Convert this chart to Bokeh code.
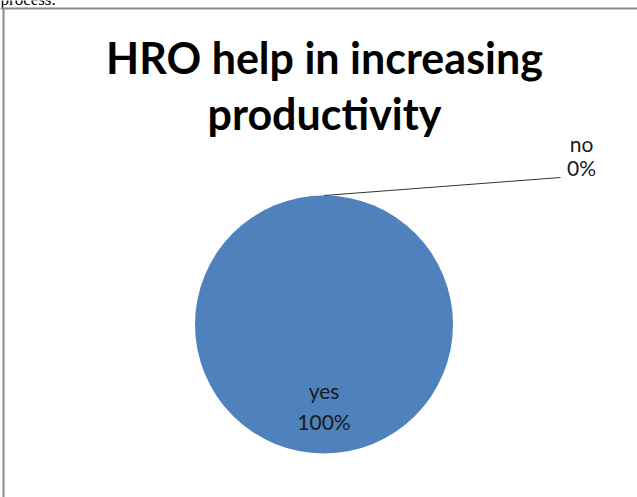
import math
from bokeh.plotting import figure
from bokeh.models import Range1d
from bokeh.core.properties import value
from bokeh.embed import file_html
from bokeh.resources import INLINE

# ---- data ----
categories = ["yes", "no"]
percentages = [100, 0]
slice_colors = ["#4F81BD", "#C0504D"]
title_lines = ["HRO help in increasing", "productivity"]

W, H = 637, 497
p = figure(width=W, height=H, output_backend="svg", toolbar_location=None,
           x_range=Range1d(0, W), y_range=Range1d(H, 0), min_border=0,
           title_location=None)
p.axis.visible = False
p.grid.visible = False
p.outline_line_color = None
p.background_fill_color = "white"
p.border_fill_color = "white"

# page fragments: cut-off text above the box and the box border
p.text(x=[0], y=[-1], text=["process."], text_font=value("Liberation Serif"),
       text_font_size="17px", text_color="black", text_baseline="alphabetic")
p.segment(x0=[0, 3], y0=[8, 8], x1=[W, 3], y1=[8, H], line_color="#8a8a8a", line_width=2)

# title
p.text(x=[324, 324], y=[57, 113], text=title_lines, text_font=value("Lato"),
       text_font_style="bold", text_font_size="43px", text_align="center",
       text_baseline="alphabetic", text_color="black")

# pie
cx, cy, r = 323.5, 324, 129
total = sum(percentages)
starts, ends, mids = [], [], []
cum = 0
for v in percentages:
    f0 = cum / total
    cum += v
    f1 = cum / total
    starts.append(-math.pi / 2 + 2 * math.pi * f0)
    ends.append(-math.pi / 2 + 2 * math.pi * f1)
    mids.append((f0 + f1) / 2)

for i, v in enumerate(percentages):
    if v <= 0:
        continue
    if v >= total:
        p.circle(x=[cx], y=[cy], radius=r, fill_color=slice_colors[i], line_color=None)
    else:
        p.wedge(x=cx, y=cy, radius=r, start_angle=starts[i], end_angle=ends[i],
                fill_color=slice_colors[i], line_color=None)

fmt = [f"{v / total * 100:.0f}%" for v in percentages]

# "yes" label inside
p.text(x=[cx, cx], y=[390, 421], text=[categories[0], fmt[0]], text_font=value("Lato"),
       text_font_size="21px", text_align="center", text_baseline="alphabetic",
       text_color="#1a1a1a")

# "no" label with leader line
a = 2 * math.pi * mids[1]
ex = cx + r * math.sin(a)
ey = cy - r * math.cos(a)
p.line(x=[ex, 560], y=[ey, 177], line_color="#333333", line_width=1)
p.text(x=[581, 581], y=[143, 167], text=[categories[1], fmt[1]], text_font=value("Lato"),
       text_font_size="21px", text_align="center", text_baseline="alphabetic",
       text_color="#1a1a1a")

open("out.html", "w").write(file_html(p, INLINE))
